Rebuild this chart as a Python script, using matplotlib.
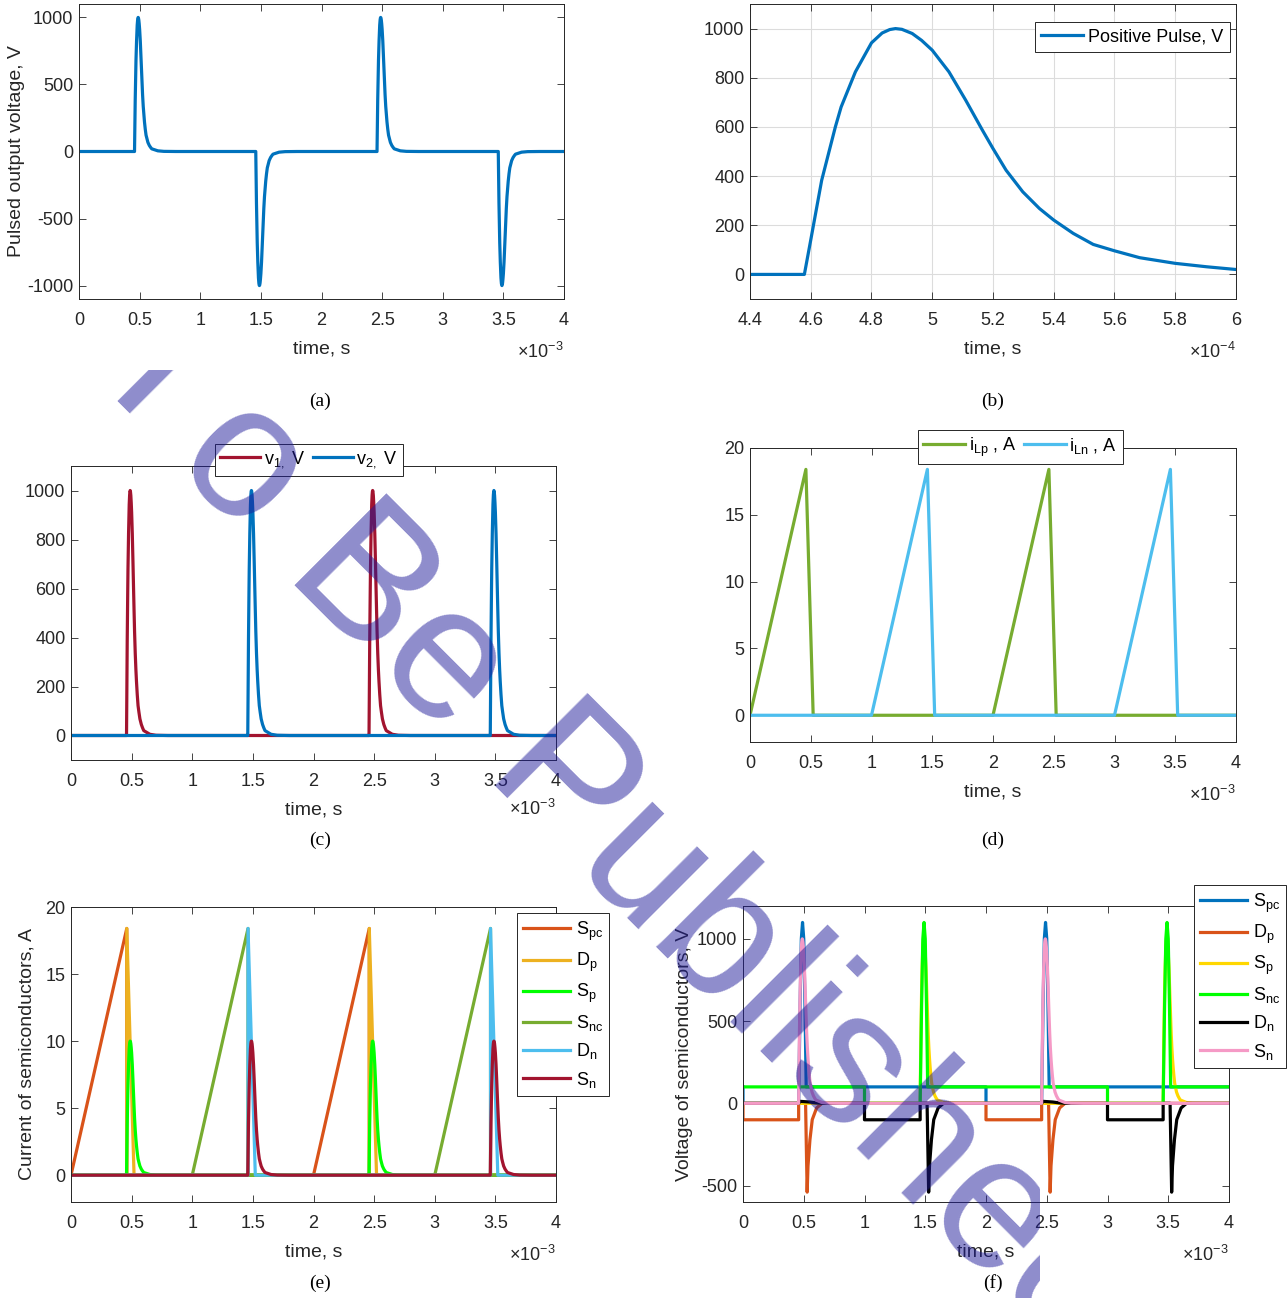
import numpy as np
import matplotlib
matplotlib.use('Agg')
import matplotlib.pyplot as plt
from matplotlib.transforms import Bbox, TransformedBbox

plt.rcParams['font.family'] = ['Liberation Sans', 'DejaVu Sans']
plt.rcParams['mathtext.fontset'] = 'custom'
plt.rcParams['mathtext.rm'] = 'Liberation Sans'
plt.rcParams['mathtext.it'] = 'Liberation Sans:italic'
plt.rcParams['mathtext.bf'] = 'Liberation Sans:bold'

INK = '#262626'
BLUE, ORANGE, GOLD, OLIVE = '#0072BD', '#D95319', '#EDB120', '#77AC30'
CYAN, WINE, LIME, YELLOW, PINK = '#4DBEEE', '#A2142F', '#00FF00', '#FFD700', '#F59AC6'

# ---- data ----------------------------------------------------------------
# positive output pulse, panel (b); time in 1e-4 s, volts
pulse_t = [4.40, 4.579, 4.60, 4.636, 4.681, 4.70, 4.747, 4.80, 4.835, 4.86,
           4.879, 4.90, 4.934, 4.965, 5.00, 5.055, 5.11, 5.165, 5.20, 5.243,
           5.298, 5.353, 5.40, 5.464, 5.53, 5.60, 5.683, 5.80, 5.904, 6.00,
           6.50, 7.00, 8.00]
pulse_v = [0, 0, 140, 383, 600, 681, 824, 942, 982, 996,
           1000, 997, 980, 952, 912, 824, 709, 587, 512, 424,
           336, 268, 221, 167, 122, 96, 68, 45, 31, 20,
           5, 1, 0]

# pulse events (ms offsets of the pulse template) and polarity, panel (a)
out_shift = [0, 1, 2, 3]
out_sign = [1, -1, 1, -1]
v1_shift = [0, 2]
v2_shift = [1, 3]

# inductor currents, panel (d); time in ms, amps
ilp_t = [0, 0.46, 0.52, 2.0, 2.46, 2.52, 4.0]
ilp_v = [0, 18.4, 0, 0, 18.4, 0, 0]
iln_t = [0, 1.0, 1.46, 1.52, 3.0, 3.46, 3.52, 4.0]
iln_v = [0, 0, 18.4, 0, 0, 18.4, 0, 0]

# semiconductor currents, panel (e)
spc_i_t = [0, 0.46, 0.46, 2.0, 2.46, 2.46, 4.0]
spc_i_v = [0, 18.4, 0, 0, 18.4, 0, 0]
dp_i_t = [0, 0.46, 0.46, 0.52, 2.46, 2.46, 2.52, 4.0]
dp_i_v = [0, 0, 18.4, 0, 0, 18.4, 0, 0]
snc_i_t = [0, 1.0, 1.46, 1.46, 3.0, 3.46, 3.46, 4.0]
snc_i_v = [0, 0, 18.4, 0, 0, 18.4, 0, 0]
dn_i_t = [0, 1.46, 1.46, 1.52, 3.46, 3.46, 3.52, 4.0]
dn_i_v = [0, 0, 18.4, 0, 0, 18.4, 0, 0]
sw_i_scale = 0.01          # S_p / S_n current peaks at 10 A

# semiconductor voltages, panel (f)
spike_t = [0.458, 0.47, 0.48, 0.49, 0.50, 0.51, 0.52]
spike_v = [0, 600, 1000, 1100, 1000, 600, 100]
dspike_t = [0.515, 0.528, 0.535, 0.551, 0.57, 0.606, 0.65]
dspike_v = [0, -540, -380, -221, -99, -28, 0]
bump_t = [0.458, 0.47, 0.55, 0.60, 0.65]
bump_v = [0, 12, 8, 3, 0]

legend_e = [r'$\mathrm{S_{pc}}$', r'$\mathrm{D_{p}}$', r'$\mathrm{S_{p}}$',
            r'$\mathrm{S_{nc}}$', r'$\mathrm{D_{n}}$', r'$\mathrm{S_{n}}$']


def train(shifts, signs, scale=1.0):
    t, v = [0.0], [0.0]
    for s, g in zip(shifts, signs):
        t += [x / 10 + s for x in pulse_t]
        v += [g * scale * y for y in pulse_v]
    return t + [4.0], v + [0.0]


def sh(seq, d):
    return [x + d for x in seq]


W, H = 1288, 1298
fig = plt.figure(figsize=(W / 100, H / 100), dpi=100)


def add_ax(l, t, r, b):
    return fig.add_axes([l / W, 1 - b / H, (r - l) / W, (b - t) / H])


def style(ax, xlim, xticks, ylim, yticks, expo, ey=-0.18):
    ax.set_xlim(xlim)
    ax.set_ylim(ylim)
    ax.set_xticks(xticks)
    ax.set_xticklabels(['%g' % x for x in xticks])
    ax.set_yticks(yticks)
    ax.set_yticklabels(['%g' % y for y in yticks])
    ax.tick_params(direction='in', top=True, right=True, length=5, width=0.6,
                   colors=INK, labelsize=13)
    ax.tick_params(axis='x', pad=9.5)
    ax.tick_params(axis='y', pad=4)
    for s in ax.spines.values():
        s.set_linewidth(0.7)
        s.set_color(INK)
    ax.text(1.0, ey, r'$\times\mathrm{10^{%d}}$' % expo, transform=ax.transAxes,
            ha='right', va='center', fontsize=13, color=INK)
    ax.set_xlabel('time, s', fontsize=14, color=INK)
    ax.xaxis.set_label_coords(0.5, -0.14)


def legend(ax, x, y, ncol=1, **kw):
    lg = ax.legend(loc='upper left', bbox_to_anchor=(x / W, 1 - y / H),
                   bbox_transform=fig.transFigure, ncol=ncol, fancybox=False,
                   edgecolor=INK, framealpha=1, fontsize=13, borderaxespad=0,
                   **kw)
    lg.get_frame().set_linewidth(0.7)
    return lg


LW = 2.3
xt = [0, 0.5, 1, 1.5, 2, 2.5, 3, 3.5, 4]

# (a)
ax = add_ax(79, 4, 564, 299)
ta, va = train(out_shift, out_sign)
ax.plot(ta, va, color=BLUE, lw=LW)
style(ax, (0, 4), xt, (-1100, 1100), [-1000, -500, 0, 500, 1000], -3)
ax.set_ylabel('Pulsed output voltage, V', fontsize=14, color=INK)
ax.yaxis.set_label_coords(-0.112, 0.5)

# (b)
ax = add_ax(750, 4, 1236, 299)
ax.grid(True, color='#dcdcdc', lw=0.8)
ax.plot(pulse_t, pulse_v, color=BLUE, lw=LW, label='Positive Pulse, V')
style(ax, (4.4, 6.0), [4.4, 4.6, 4.8, 5, 5.2, 5.4, 5.6, 5.8, 6],
      (-100, 1100), [0, 200, 400, 600, 800, 1000], -4)
legend(ax, 1035, 22, handlelength=2.3, handletextpad=0.3, borderpad=0.35)

# (c)
ax = add_ax(71, 466, 556, 760)
t1, y1 = train(v1_shift, [1, 1])
t2, y2 = train(v2_shift, [1, 1])
ax.plot(t1, y1, color=WINE, lw=LW, label=r'$\mathrm{v_{1,}}$ V')
ax.plot(t2, y2, color=BLUE, lw=LW, label=r'$\mathrm{v_{2,}}$ V')
style(ax, (0, 4), xt, (-100, 1100), [0, 200, 400, 600, 800, 1000], -3, ey=-0.165)
legend(ax, 215, 444, ncol=2, handlelength=2.2, handletextpad=0.2,
       columnspacing=0.45, borderpad=0.3)

# (d)
ax = add_ax(750, 448, 1236, 742)
ax.plot(ilp_t, ilp_v, color=OLIVE, lw=LW, label=r'$\mathrm{i_{Lp}}$ , A')
ax.plot(iln_t, iln_v, color=CYAN, lw=LW, label=r'$\mathrm{i_{Ln}}$ , A')
style(ax, (0, 4), xt, (-2, 20), [0, 5, 10, 15, 20], -3)
legend(ax, 918, 430, ncol=2, handlelength=2.3, handletextpad=0.2,
       columnspacing=0.45, borderpad=0.3)

# (e)
ax = add_ax(71, 907, 556, 1202)
tp, yp = train(v1_shift, [1, 1], sw_i_scale)
tn, yn = train(v2_shift, [1, 1], sw_i_scale)
series_e = [(spc_i_t, spc_i_v, ORANGE), (dp_i_t, dp_i_v, GOLD), (tp, yp, LIME),
            (snc_i_t, snc_i_v, OLIVE), (dn_i_t, dn_i_v, CYAN), (tn, yn, WINE)]
for (t, y, c), lab in zip(series_e, legend_e):
    ax.plot(t, y, color=c, lw=LW, label=lab)
style(ax, (0, 4), xt, (-2, 20), [0, 5, 10, 15, 20], -3)
ax.set_ylabel('Current of semiconductors, A', fontsize=14, color=INK)
ax.yaxis.set_label_coords(-0.074, 0.5)
legend(ax, 517, 913, handlelength=2.6, handletextpad=0.3, borderpad=0.35,
       labelspacing=0.45)

# (f)
ax = add_ax(743, 906, 1229, 1202)
spc_v_t = [0, 0] + spike_t + [2.0, 2.0] + sh(spike_t, 2) + [4.0]
spc_v_v = [100, 0] + spike_v + [100, 0] + spike_v + [100]
dp_v_t = [0, 0, 0.458, 0.458] + dspike_t + [2.0, 2.0, 2.458, 2.458] + sh(dspike_t, 2) + [4.0]
dp_v_v = [0, -100, -100, 0] + dspike_v + [0, -100, -100, 0] + dspike_v + [0]
sp_v_t, sp_v_v = train(v2_shift, [1, 1])
snc_v_t = [0, 1.0, 1.0] + sh(spike_t, 1) + [3.0, 3.0] + sh(spike_t, 3) + [4.0]
snc_v_v = [100, 100, 0] + spike_v + [100, 0] + spike_v + [100]
dn_v_t = ([0] + bump_t + [1.0, 1.0, 1.458, 1.458] + sh(dspike_t, 1)
          + sh(bump_t, 2) + [3.0, 3.0, 3.458, 3.458] + sh(dspike_t, 3) + [4.0])
dn_v_v = ([0] + bump_v + [0, -100, -100, 0] + dspike_v
          + bump_v + [0, -100, -100, 0] + dspike_v + [0])
sn_v_t, sn_v_v = train(v1_shift, [1, 1])
series_f = [(spc_v_t, spc_v_v, BLUE), (dp_v_t, dp_v_v, ORANGE),
            (sp_v_t, sp_v_v, YELLOW), (snc_v_t, snc_v_v, LIME),
            (dn_v_t, dn_v_v, 'black'), (sn_v_t, sn_v_v, PINK)]
for (t, y, c), lab in zip(series_f, legend_e):
    ax.plot(t, y, color=c, lw=LW, label=lab)
style(ax, (0, 4), xt, (-600, 1200), [-500, 0, 500, 1000], -3)
ax.set_ylabel('Voltage of semiconductors, V', fontsize=14, color=INK)
ax.yaxis.set_label_coords(-0.103, 0.5)
legend(ax, 1194, 885, handlelength=2.6, handletextpad=0.3, borderpad=0.35,
       labelspacing=0.45)

# captions
for lab, x, y in [('(a)', 320, 401), ('(b)', 993, 401), ('(c)', 320, 840),
                  ('(d)', 993, 840), ('(e)', 320, 1283), ('(f)', 993, 1283)]:
    fig.text(x / W, 1 - y / H, lab, family='Liberation Serif', fontsize=14,
             ha='center', va='center', color='black')

# watermark (clipped like the pasted stamp in the source page)
clip = TransformedBbox(Bbox.from_extents(0, 0, 1040 / W, 1 - 370 / H),
                       fig.transFigure)
for word, x, y in [('T', 81, 369), ('o Be Published', 172, 462)]:
    wm = fig.text(x / W, 1 - y / H, word, fontsize=136, rotation=-45,
                  rotation_mode='anchor', ha='left', va='baseline',
                  color='#1F1B9A', alpha=0.5, zorder=10)
    wm.set_clip_box(clip)
    wm.set_clip_on(True)

fig.savefig('out.png', dpi=100, facecolor='white')
